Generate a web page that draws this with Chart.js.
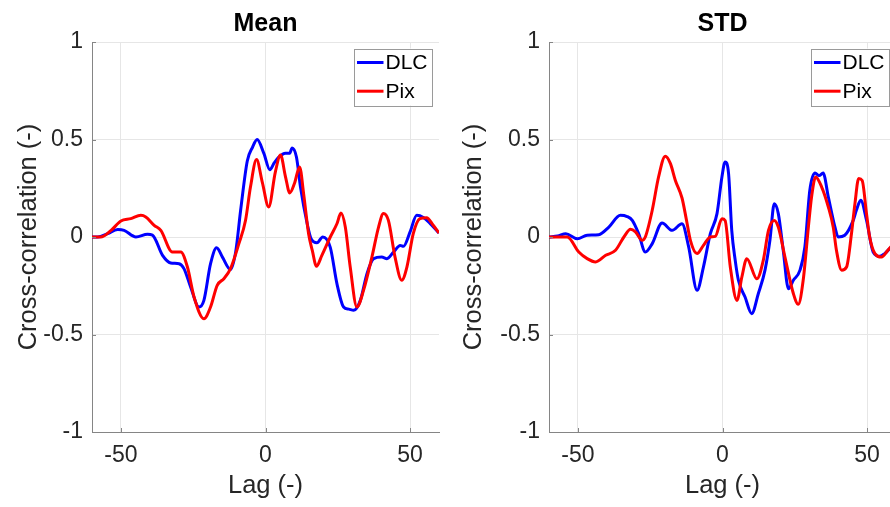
<!DOCTYPE html>
<html><head><meta charset="utf-8">
<script src="https://cdn.jsdelivr.net/npm/chart.js@4/dist/chart.umd.min.js"></script>
<style>
html,body{margin:0;padding:0;background:#fff;overflow:hidden;width:890px;height:507px;}
#wrap{position:relative;width:890px;height:507px;overflow:hidden;background:#fff;}
canvas{position:absolute;top:0;}
#c1{left:0;}
#c2{left:445px;}
</style></head><body>
<div id="wrap">
<canvas id="c1" width="445" height="507"></canvas>
<canvas id="c2" width="460" height="507"></canvas>
</div>
<script>
const panelTitles = ['Mean', 'STD'];
const seriesNames = ['DLC', 'Pix'];
const xTicks = [-50, 0, 50];
const yTicks = [-1, -0.5, 0, 0.5, 1];
const xLabel = 'Lag (-)';
const yLabel = 'Cross-correlation (-)';

const meanDlcLag = [-60,-58,-54.6,-51.1,-48.9,-44.8,-40.8,-39.1,-35.6,-32.8,-29.9,-28.2,-25.9,-23,-21.3,-19,-16.9,-14.9,-12.1,-10.3,-8.6,-6.3,-4.5,-2.9,-0.6,1.5,3,4.6,6.9,8.4,9.2,10.7,12.1,14.4,15.8,17.8,19.8,22.4,24.7,27,28.8,30.5,32.8,35.1,37.4,40.2,42,44.3,46.6,47.7,50,52.3,54.6,56.9,60];
const meanDlcVal = [0,0,0.017,0.038,0.034,0,0.014,0.01,-0.094,-0.133,-0.137,-0.162,-0.256,-0.359,-0.325,-0.137,-0.055,-0.103,-0.167,-0.075,0.137,0.39,0.46,0.5,0.43,0.345,0.38,0.41,0.43,0.43,0.457,0.41,0.256,0.069,-0.01,-0.03,0,-0.053,-0.239,-0.359,-0.37,-0.376,-0.325,-0.188,-0.111,-0.103,-0.111,-0.077,-0.043,-0.048,0.026,0.111,0.1,0.07,0.02];

const meanPixLag = [-60,-57,-53.4,-50,-46.6,-43.1,-41.4,-38.5,-36.2,-32.2,-29.3,-27,-24.7,-21.3,-19,-16.7,-14.4,-12.1,-9.2,-6.9,-5.2,-3.1,-1.1,1.1,3.4,5.2,6.9,8.4,10,11.8,13.2,14.9,16.2,17.6,19.5,22.4,24.7,26.1,27.6,29.3,31.6,33.9,36.8,39.1,40.8,42.5,44.8,47.1,48.9,51.1,53.4,55.7,58,60];
const meanPixVal = [0,0,0.034,0.082,0.094,0.111,0.103,0.06,0.034,-0.077,-0.077,-0.154,-0.308,-0.419,-0.359,-0.248,-0.214,-0.162,-0.034,0.086,0.256,0.397,0.28,0.154,0.333,0.42,0.31,0.226,0.274,0.359,0.22,0.017,-0.07,-0.15,-0.094,0,0.068,0.123,0.051,-0.154,-0.359,-0.274,-0.103,0.051,0.12,0.085,-0.103,-0.222,-0.154,0.017,0.094,0.099,0.06,0.02];

const stdDlcLag = [-60,-57,-54.2,-50.2,-46.8,-42.8,-39.3,-35.3,-33,-31.2,-29,-26.7,-24.3,-20.9,-17.4,-14,-11.7,-8.8,-6.6,-4.2,-1.9,-0.2,0.9,2.1,3.2,4.4,5.5,7.8,10.1,12.4,14.7,16.4,17.9,19.3,21,22.8,24.5,26.8,28.5,30.2,32,33.4,34.8,36.6,38.9,40,42.3,45.2,46.3,47.8,49.8,52.1,54.4,56.1,57.8,60];
const stdDlcVal = [0,0.005,0.017,-0.009,0.009,0.012,0.051,0.111,0.105,0.085,0.017,-0.077,-0.034,0.072,0.034,0.068,-0.051,-0.273,-0.154,0.017,0.12,0.308,0.385,0.325,0.034,-0.12,-0.222,-0.308,-0.393,-0.29,-0.17,-0.017,0.17,0.12,-0.068,-0.265,-0.222,-0.17,-0.05,0.24,0.328,0.315,0.328,0.205,0.05,0,0.009,0.085,0.137,0.188,0.086,-0.077,-0.099,-0.085,-0.06,-0.03];

const stdPixLag = [-60,-53.7,-49.7,-46.8,-43.9,-40.4,-37,-34.1,-31.8,-30.1,-27.8,-26.7,-24.3,-22.1,-19.8,-18,-16.3,-14,-12.5,-11.1,-8.8,-6.6,-4.2,-2.5,-0.2,0.9,2.7,5,6.7,8.4,11.9,14.1,15.9,17.9,19.3,21.6,24.5,26.2,27.9,29.7,30.8,32.2,34.3,36.6,38.3,39.4,41.2,42.9,44.6,45.8,47.1,48.3,49.8,50.9,52.7,55,57.2,60];
const stdPixVal = [0,0,-0.077,-0.111,-0.128,-0.094,-0.068,0,0.04,0.026,-0.017,0,0.137,0.308,0.414,0.376,0.29,0.2,0.09,-0.017,-0.085,-0.043,0,0.003,0.094,0.085,-0.154,-0.325,-0.205,-0.111,-0.214,-0.12,0.034,0.085,0.051,-0.103,-0.29,-0.345,-0.222,0.051,0.205,0.308,0.256,0.154,0.05,-0.068,-0.17,-0.154,0.017,0.171,0.3,0.29,0.12,0,-0.085,-0.103,-0.068,-0.02];

const FONT = "'Liberation Sans', Arial, Helvetica, sans-serif";
const COLORS = ['#0000ff', '#ff0000'];
const AXIS_COLOR = '#858585';
const TEXT_COLOR = '#262626';

function pts(lags, vals) { return lags.map((l, i) => ({x: l, y: vals[i]})); }

const tickMarks = {
  id: 'tickMarks',
  afterDraw(chart) {
    const ctx = chart.ctx, a = chart.chartArea;
    const xs = chart.scales.x, ys = chart.scales.y;
    ctx.save();
    ctx.strokeStyle = AXIS_COLOR; ctx.lineWidth = 1;
    ctx.beginPath();
    xTicks.forEach(v => { const px = Math.round(xs.getPixelForValue(v)) + 0.5; ctx.moveTo(px, a.bottom); ctx.lineTo(px, a.bottom - 4); });
    yTicks.forEach(v => { const py = Math.round(ys.getPixelForValue(v)) + 0.5; ctx.moveTo(a.left, py); ctx.lineTo(a.left + 4, py); });
    ctx.stroke();
    ctx.restore();
  }
};

const legendBox = {
  id: 'legendBox',
  afterDraw(chart) {
    const ctx = chart.ctx, a = chart.chartArea;
    const w = 78, h = 57;
    const right = a.right - 7, top = a.top + 6.5, left = right - w;
    ctx.save();
    ctx.fillStyle = '#fff';
    ctx.fillRect(left, top, w, h);
    ctx.strokeStyle = '#9a9a9a'; ctx.lineWidth = 1;
    ctx.strokeRect(Math.round(left) + 0.5, Math.round(top) + 0.5, w, h);
    ctx.font = '21px ' + FONT;
    ctx.textBaseline = 'middle';
    ctx.fillStyle = '#000';
    chart.data.datasets.forEach((ds, i) => {
      const y = top + 14 + i * 28.7;
      ctx.strokeStyle = ds.borderColor; ctx.lineWidth = 3;
      ctx.beginPath(); ctx.moveTo(left + 3, y); ctx.lineTo(left + 29.5, y); ctx.stroke();
      ctx.fillText(ds.label, left + 31.5, y + 1);
    });
    ctx.restore();
  }
};

function makeChart(id, title, dlc, pix, yWidth, padRight) {
  return new Chart(document.getElementById(id), {
    type: 'line',
    data: {
      datasets: [
        {label: seriesNames[0], data: dlc, borderColor: COLORS[0], borderWidth: 3, pointRadius: 0, cubicInterpolationMode: 'monotone', order: 2, fill: false},
        {label: seriesNames[1], data: pix, borderColor: COLORS[1], borderWidth: 3, pointRadius: 0, cubicInterpolationMode: 'monotone', order: 1, fill: false}
      ]
    },
    options: {
      responsive: false, animation: false, devicePixelRatio: 1,
      layout: {padding: {left: 0, right: padRight, top: 0, bottom: 0}},
      plugins: {
        legend: {display: false}, tooltip: {enabled: false},
        title: {display: true, text: title, fullSize: false, color: '#000',
          font: {family: FONT, size: 25, weight: 'bold', lineHeight: 1.2},
          padding: {top: 9, bottom: 3}}
      },
      scales: {
        x: {
          type: 'linear', min: -60, max: 60,
          afterBuildTicks: s => { s.ticks = xTicks.map(v => ({value: v})); },
          afterFit: s => { s.height = 75; },
          grid: {color: '#e6e6e6', drawTicks: false},
          border: {color: AXIS_COLOR, width: 1},
          ticks: {font: {family: FONT, size: 23}, color: TEXT_COLOR, padding: 10, maxRotation: 0, autoSkip: false, callback: v => String(v)},
          title: {display: true, text: xLabel, color: TEXT_COLOR, font: {family: FONT, size: 25.5, lineHeight: 1.2}, padding: {top: 0, bottom: 6}}
        },
        y: {
          type: 'linear', min: -1, max: 1,
          afterBuildTicks: s => { s.ticks = yTicks.map(v => ({value: v})); },
          afterFit: s => { s.width = yWidth; },
          grid: {color: '#e6e6e6', drawTicks: false},
          border: {color: AXIS_COLOR, width: 1},
          ticks: {font: {family: FONT, size: 23}, color: TEXT_COLOR, padding: 9, autoSkip: false, callback: v => String(v)},
          title: {display: true, text: yLabel, color: TEXT_COLOR, font: {family: FONT, size: 25.5, lineHeight: 1.2}, padding: {top: 14, bottom: 0}}
        }
      }
    },
    plugins: [tickMarks, legendBox]
  });
}

makeChart('c1', panelTitles[0], pts(meanDlcLag, meanDlcVal), pts(meanPixLag, meanPixVal), 92, 6);
makeChart('c2', panelTitles[1], pts(stdDlcLag, stdDlcVal), pts(stdPixLag, stdPixVal), 104, 9);
</script>
</body></html>
